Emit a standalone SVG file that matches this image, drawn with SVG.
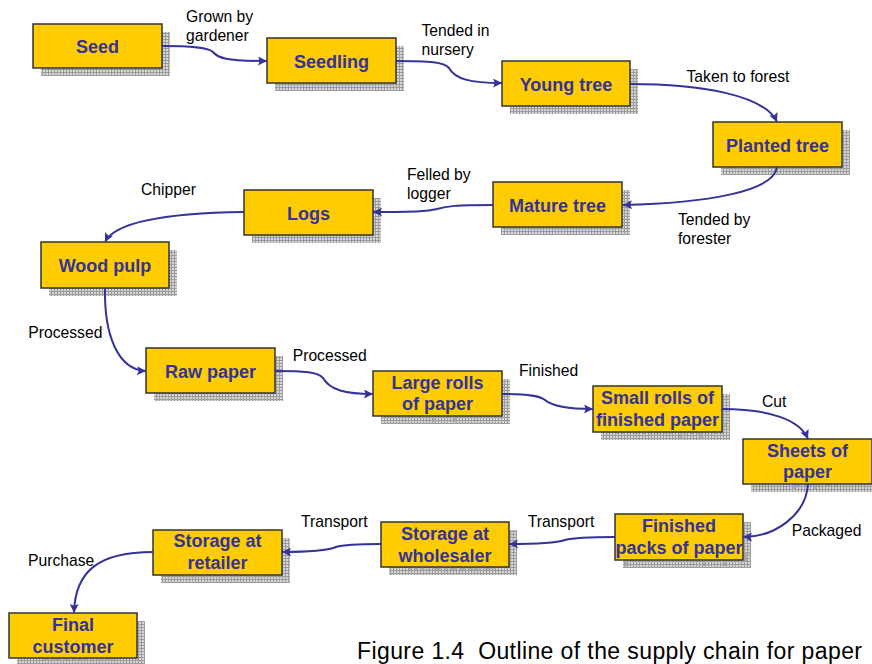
<svg xmlns="http://www.w3.org/2000/svg" xmlns:xlink="http://www.w3.org/1999/xlink" width="872" height="664" viewBox="0 0 872 664">
<defs>
<pattern id="grid" width="3" height="3" patternUnits="userSpaceOnUse">
<rect width="3" height="3" fill="#d6d6d6"/>
<path d="M0,0.5H3M0.5,0V3" stroke="#9c9c9c" stroke-width="1"/>
</pattern>
<marker id="arr" viewBox="0 0 10 10" refX="10" refY="5" markerWidth="10" markerHeight="9" markerUnits="userSpaceOnUse" orient="auto">
<path d="M0,0 L10,5 L0,10 L2,5 Z" fill="#333399"/>
</marker>
<style>
.bg{fill:#ffffff}
.sh{fill:url(#grid)}
.box{fill:#ffcc00;stroke:#333333;stroke-width:1.5}
.t{font-family:"Liberation Sans",Arial,sans-serif;font-weight:bold;font-size:18px;fill:#333399;text-anchor:middle}
.st{font-family:"Liberation Sans",Arial,sans-serif;font-weight:bold;font-size:18px;fill:#a8a8a8;text-anchor:middle}
.lbl{font-family:"Liberation Sans",Arial,sans-serif;font-size:15.7px;fill:#000000}
.cap{font-family:"Liberation Sans",Arial,sans-serif;font-size:23px;fill:#000000}
.c{fill:none;stroke:#333399;stroke-width:2;marker-end:url(#arr)}
</style>
</defs>
<rect class="bg" x="0" y="0" width="872" height="664"/>

<g id="labels" class="lbl">
<text x="186" y="22">Grown by</text>
<text x="186" y="40.5">gardener</text>
<text x="421.5" y="36">Tended in</text>
<text x="421.5" y="55">nursery</text>
<text x="686.5" y="81.5">Taken to forest</text>
<text x="678" y="225">Tended by</text>
<text x="678" y="244">forester</text>
<text x="407" y="180">Felled by</text>
<text x="407" y="198.5">logger</text>
<text x="141" y="195">Chipper</text>
<text x="28.3" y="338">Processed</text>
<text x="292.7" y="361">Processed</text>
<text x="519" y="376">Finished</text>
<text x="762" y="406.7">Cut</text>
<text x="791.7" y="535.5">Packaged</text>
<text x="527.7" y="527">Transport</text>
<text x="301" y="527">Transport</text>
<text x="28" y="566">Purchase</text>
</g>

<g id="seed">
<rect class="sh" x="41" y="32" width="129" height="44"/>
<use xlink:href="#seed-t" href="#seed-t" class="st" x="8" y="8"/>
<rect class="box" x="33" y="24" width="129" height="44"/>
<g class="t"><g id="seed-t"><text x="97.5" y="53">Seed</text></g></g>
</g>
<g id="seedling">
<rect class="sh" x="275" y="46" width="129" height="45"/>
<use xlink:href="#seedling-t" href="#seedling-t" class="st" x="8" y="8"/>
<rect class="box" x="267" y="38" width="129" height="45"/>
<g class="t"><g id="seedling-t"><text x="331.5" y="67.5">Seedling</text></g></g>
</g>
<g id="young-tree">
<rect class="sh" x="510" y="69" width="128" height="45"/>
<use xlink:href="#young-t" href="#young-t" class="st" x="8" y="8"/>
<rect class="box" x="502" y="61" width="128" height="45"/>
<g class="t"><g id="young-t"><text x="566" y="90.5">Young tree</text></g></g>
</g>
<g id="planted-tree">
<rect class="sh" x="721" y="130" width="129" height="45"/>
<use xlink:href="#planted-t" href="#planted-t" class="st" x="8" y="8"/>
<rect class="box" x="713" y="122" width="129" height="45"/>
<g class="t"><g id="planted-t"><text x="777.5" y="151.5">Planted tree</text></g></g>
</g>
<g id="mature-tree">
<rect class="sh" x="501" y="190" width="129" height="45"/>
<use xlink:href="#mature-t" href="#mature-t" class="st" x="8" y="8"/>
<rect class="box" x="493" y="182" width="129" height="45"/>
<g class="t"><g id="mature-t"><text x="557.5" y="211.5">Mature tree</text></g></g>
</g>
<g id="logs">
<rect class="sh" x="252" y="198" width="129" height="45"/>
<use xlink:href="#logs-t" href="#logs-t" class="st" x="8" y="8"/>
<rect class="box" x="244" y="190" width="129" height="45"/>
<g class="t"><g id="logs-t"><text x="308.5" y="219.5">Logs</text></g></g>
</g>
<g id="wood-pulp">
<rect class="sh" x="49" y="250" width="128" height="46"/>
<use xlink:href="#pulp-t" href="#pulp-t" class="st" x="8" y="8"/>
<rect class="box" x="41" y="242" width="128" height="46"/>
<g class="t"><g id="pulp-t"><text x="105" y="272">Wood pulp</text></g></g>
</g>
<g id="raw-paper">
<rect class="sh" x="154" y="356" width="129" height="45"/>
<use xlink:href="#raw-t" href="#raw-t" class="st" x="8" y="8"/>
<rect class="box" x="146" y="348" width="129" height="45"/>
<g class="t"><g id="raw-t"><text x="210.5" y="377.5">Raw paper</text></g></g>
</g>
<g id="large-rolls">
<rect class="sh" x="381" y="379" width="129" height="45"/>
<use xlink:href="#large-t" href="#large-t" class="st" x="8" y="8"/>
<rect class="box" x="373" y="371" width="129" height="45"/>
<g class="t"><g id="large-t"><text x="437.5" y="388.5">Large rolls</text><text x="437.5" y="410">of paper</text></g></g>
</g>
<g id="small-rolls">
<rect class="sh" x="601" y="394" width="129" height="46"/>
<use xlink:href="#small-t" href="#small-t" class="st" x="8" y="8"/>
<rect class="box" x="593" y="386" width="129" height="46"/>
<g class="t"><g id="small-t"><text x="657.5" y="404">Small rolls of</text><text x="657.5" y="425.5">finished paper</text></g></g>
</g>
<g id="sheets">
<rect class="sh" x="751" y="447" width="129" height="45"/>
<use xlink:href="#sheets-t" href="#sheets-t" class="st" x="8" y="8"/>
<rect class="box" x="743" y="439" width="129" height="45"/>
<g class="t"><g id="sheets-t"><text x="807.5" y="456.5">Sheets of</text><text x="807.5" y="478">paper</text></g></g>
</g>
<g id="finished-packs">
<rect class="sh" x="623" y="522" width="128" height="46"/>
<use xlink:href="#packs-t" href="#packs-t" class="st" x="8" y="8"/>
<rect class="box" x="615" y="514" width="128" height="46"/>
<g class="t"><g id="packs-t"><text x="679" y="532">Finished</text><text x="679" y="553.5">packs of paper</text></g></g>
</g>
<g id="wholesaler">
<rect class="sh" x="389" y="530" width="128" height="45"/>
<use xlink:href="#whole-t" href="#whole-t" class="st" x="8" y="8"/>
<rect class="box" x="381" y="522" width="128" height="45"/>
<g class="t"><g id="whole-t"><text x="445" y="539.5">Storage at</text><text x="445" y="561.5">wholesaler</text></g></g>
</g>
<g id="retailer">
<rect class="sh" x="161" y="538" width="129" height="45"/>
<use xlink:href="#retail-t" href="#retail-t" class="st" x="8" y="8"/>
<rect class="box" x="153" y="530" width="129" height="45"/>
<g class="t"><g id="retail-t"><text x="217.5" y="547">Storage at</text><text x="217.5" y="569">retailer</text></g></g>
</g>
<g id="final-customer">
<rect class="sh" x="17" y="621" width="128" height="45"/>
<use xlink:href="#final-t" href="#final-t" class="st" x="8" y="8"/>
<rect class="box" x="9" y="613" width="128" height="45"/>
<g class="t"><g id="final-t"><text x="73" y="630.5">Final</text><text x="73" y="652.5">customer</text></g></g>
</g>

<g id="connectors">
<path class="c" d="M162,46 C190,46 208,47 213,52 C218,58 225,61 267,61"/>
<path class="c" d="M396,61 C430,61 444,62 449,68 C455,79 470,83 502,83"/>
<path class="c" d="M630,84 C700,84 765,95 777,122"/>
<path class="c" d="M777,167 C774,192 705,203 623,205"/>
<path class="c" d="M493,205 C455,205 447,206 437,209 C428,211 420,212 373,212"/>
<path class="c" d="M244,212 C165,213 115,222 105,242"/>
<path class="c" d="M105,288 C104,335 118,370 146,371"/>
<path class="c" d="M275,371 C305,371 318,372 323,378 C330,390 345,394 373,394"/>
<path class="c" d="M502,394 C530,394 540,396 545,400 C552,406 565,409 593,409"/>
<path class="c" d="M722,409 C770,409 800,420 808,439"/>
<path class="c" d="M808,484 C806,515 775,537 743,537"/>
<path class="c" d="M615,537 C585,537 572,538 565,540 C556,543 540,544 509,544"/>
<path class="c" d="M381,544 C350,544 342,545 336,547 C326,551 310,552 282,552"/>
<path class="c" d="M153,552 C100,552 75,570 74,613"/>
</g>

<text class="cap" x="357" y="659" textLength="505" lengthAdjust="spacing" xml:space="preserve">Figure 1.4  Outline of the supply chain for paper</text>
</svg>
